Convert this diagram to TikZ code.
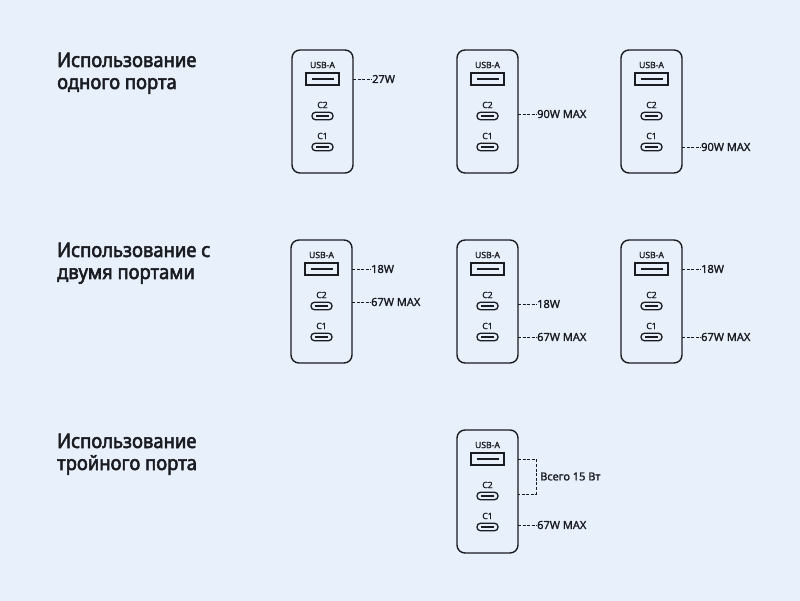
\documentclass[tikz,border=0pt]{standalone}
\usepackage{fontspec}
\setmainfont{Noto Sans}
\newfontfamily\headfont{Noto Sans}[FakeBold=2.6, FakeStretch=0.92]
\newfontfamily\semifont{Noto Sans}[FakeBold=1.4]
\usetikzlibrary{calc}
\definecolor{bgc}{HTML}{E8F1FB}
\definecolor{ink}{HTML}{1B1B22}
\tikzset{
  chbox/.style={draw=ink, line width=1.4pt, rounded corners=8pt, minimum width=61pt, minimum height=123pt, inner sep=0pt},
  plabel/.style={font=\semifont\fontsize{8.6}{9}\selectfont, text=ink, inner sep=0pt},
  usbport/.style={draw=ink, line width=1.3pt, minimum width=33pt, minimum height=12pt, inner sep=0pt},
  cport/.style={draw=ink, line width=1.3pt, rounded corners=3.5pt, minimum width=21pt, minimum height=7.5pt, inner sep=0pt},
  bar/.style={ink, line width=2.6pt},
  cbar/.style={ink, line width=1.3pt},
  conn/.style={ink, line width=0.9pt, dash pattern=on 3pt off 1.6pt},
  vlabel/.style={font=\semifont\fontsize{11}{12}\selectfont, text=ink, inner sep=0pt, anchor=west},
  heading/.style={font=\headfont\fontsize{20}{22}\selectfont, text=ink, inner sep=0pt, align=left, anchor=base west}
}
\newcommand{\charger}[3]{%
  \node[chbox] (#1) at (#2+30.5, #3+61.5) {};
  \node[plabel] (#1-ul) at (#2+30.5, #3+15) {USB-A};
  \node[usbport] (#1-u) at (#2+30.5, #3+29) {};
  \draw[bar] ($(#1-u.center)+(-11,0)$) -- ($(#1-u.center)+(11,0)$);
  \node[plabel] (#1-c2l) at (#2+30.5, #3+55) {C2};
  \node[cport] (#1-c2) at (#2+30.5, #3+66) {};
  \draw[cbar] ($(#1-c2.center)+(-6.5,0)$) -- ($(#1-c2.center)+(6.5,0)$);
  \node[plabel] (#1-c1l) at (#2+30.5, #3+86) {C1};
  \node[cport] (#1-c1) at (#2+30.5, #3+97) {};
  \draw[cbar] ($(#1-c1.center)+(-6.5,0)$) -- ($(#1-c1.center)+(6.5,0)$);
  \coordinate (#1-pu) at (#2+61, #3+29);
  \coordinate (#1-p2) at (#2+61, #3+64);
  \coordinate (#1-p1) at (#2+61, #3+97);
}
\begin{document}
\begin{tikzpicture}[x=1pt, y=-1pt]
\fill[bgc] (0,0) rectangle (800,601);
\useasboundingbox (0,0) rectangle (800,601);

\node[heading] (h1) at (57,89) {Использование\\одного порта};
\node[heading] (h2) at (57,279) {Использование с\\двумя портами};
\node[heading] (h3) at (57,470) {Использование\\тройного порта};

% row 1
\charger{a}{292}{50}
\charger{b}{457}{50}
\charger{c}{621}{50}
\node[vlabel] (la) at ($(a-pu)+(19,0)$) {27W};
\draw[conn] (a-pu) -- (la.west);
\node[vlabel] (lb) at ($(b-p2)+(19,0)$) {90W MAX};
\draw[conn] (b-p2) -- (lb.west);
\node[vlabel] (lc) at ($(c-p1)+(19,0)$) {90W MAX};
\draw[conn] (c-p1) -- (lc.west);

% row 2
\charger{d}{291}{240}
\charger{e}{457}{240}
\charger{f}{621}{240}
\node[vlabel] (ld1) at ($(d-pu)+(19,0)$) {18W};
\draw[conn] (d-pu) -- (ld1.west);
\node[vlabel] (ld2) at ($(d-p2)+(19,-2)$) {67W MAX};
\draw[conn] ($(d-p2)+(0,-2)$) -- (ld2.west);
\node[vlabel] (le1) at ($(e-p2)+(19,0)$) {18W};
\draw[conn] (e-p2) -- (le1.west);
\node[vlabel] (le2) at ($(e-p1)+(19,0)$) {67W MAX};
\draw[conn] (e-p1) -- (le2.west);
\node[vlabel] (lf1) at ($(f-pu)+(19,0)$) {18W};
\draw[conn] (f-pu) -- (lf1.west);
\node[vlabel] (lf2) at ($(f-p1)+(19,0)$) {67W MAX};
\draw[conn] (f-p1) -- (lf2.west);

% row 3
\charger{g}{457}{430}
\coordinate (gbr) at ($(g-pu)+(18,0)$);
\draw[conn] (g-pu) -- (gbr) |- (g-p2);
\node[vlabel] (lg1) at ($(gbr)!0.5!(gbr |- g-p2)+(4,0)$) {Всего 15 Вт};
\node[vlabel] (lg2) at ($(g-p1)+(19,-2)$) {67W MAX};
\draw[conn] ($(g-p1)+(0,-2)$) -- (lg2.west);
\end{tikzpicture}
\end{document}
